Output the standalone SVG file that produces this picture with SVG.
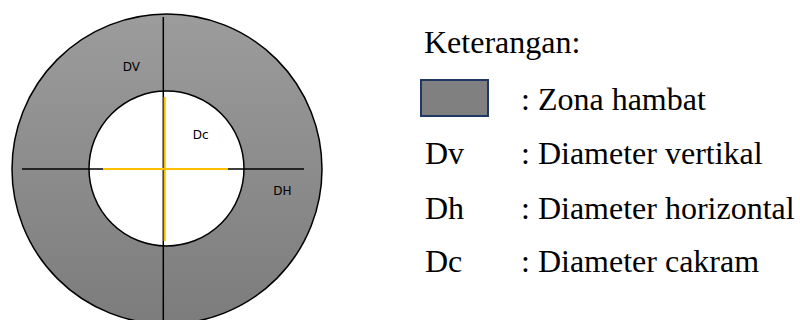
<svg xmlns="http://www.w3.org/2000/svg" width="800" height="320" viewBox="0 0 800 320">
<style>
.lbl{font-family:"DejaVu Sans","Open Sans",sans-serif;font-size:12px;fill:#000}
.leg{font-family:"Liberation Serif","Times New Roman",serif;font-size:32px;fill:#000}
.blk{stroke:#000;stroke-width:1.5;fill:none}
.yel{stroke:#FFC000;stroke-width:2.2;fill:none}
</style>
<defs>
<linearGradient id="g" x1="0" y1="0" x2="0" y2="1">
<stop offset="0" stop-color="#9c9c9c"/>
<stop offset="1" stop-color="#7c7c7c"/>
</linearGradient>
</defs>
<rect width="800" height="320" fill="#fff"/>
<g id="outer">
<circle cx="167" cy="169" r="155" fill="url(#g)" stroke="#000" stroke-width="1.5"/>
</g>
<g id="inner">
<circle cx="166.5" cy="168.5" r="77.5" fill="#fff" stroke="#000" stroke-width="1.5"/>
</g>
<g id="connectors">
<line class="blk" x1="163.3" y1="17" x2="163.3" y2="320"/>
<line class="blk" x1="22" y1="169" x2="304" y2="169"/>
<line class="yel" x1="164.7" y1="97" x2="164.7" y2="241"/>
<line class="yel" x1="103" y1="169" x2="228" y2="169"/>
</g>
<g id="labels">
<text class="lbl" x="122.7" y="70.7">DV</text>
<text class="lbl" x="192.7" y="139.3">Dc</text>
<text class="lbl" x="273.3" y="195">DH</text>
</g>
<g id="legend">
<text class="leg" x="424" y="53">Keterangan:</text>
<rect x="421" y="80" width="67" height="36" fill="#808080" stroke="#1F3864" stroke-width="2"/>
<text class="leg" x="521" y="110">: Zona hambat</text>
<text class="leg" x="425" y="164">Dv</text>
<text class="leg" x="521" y="164">: Diameter vertikal</text>
<text class="leg" x="425" y="219">Dh</text>
<text class="leg" x="521" y="219">: Diameter horizontal</text>
<text class="leg" x="425" y="272">Dc</text>
<text class="leg" x="521" y="272">: Diameter cakram</text>
</g>
</svg>
